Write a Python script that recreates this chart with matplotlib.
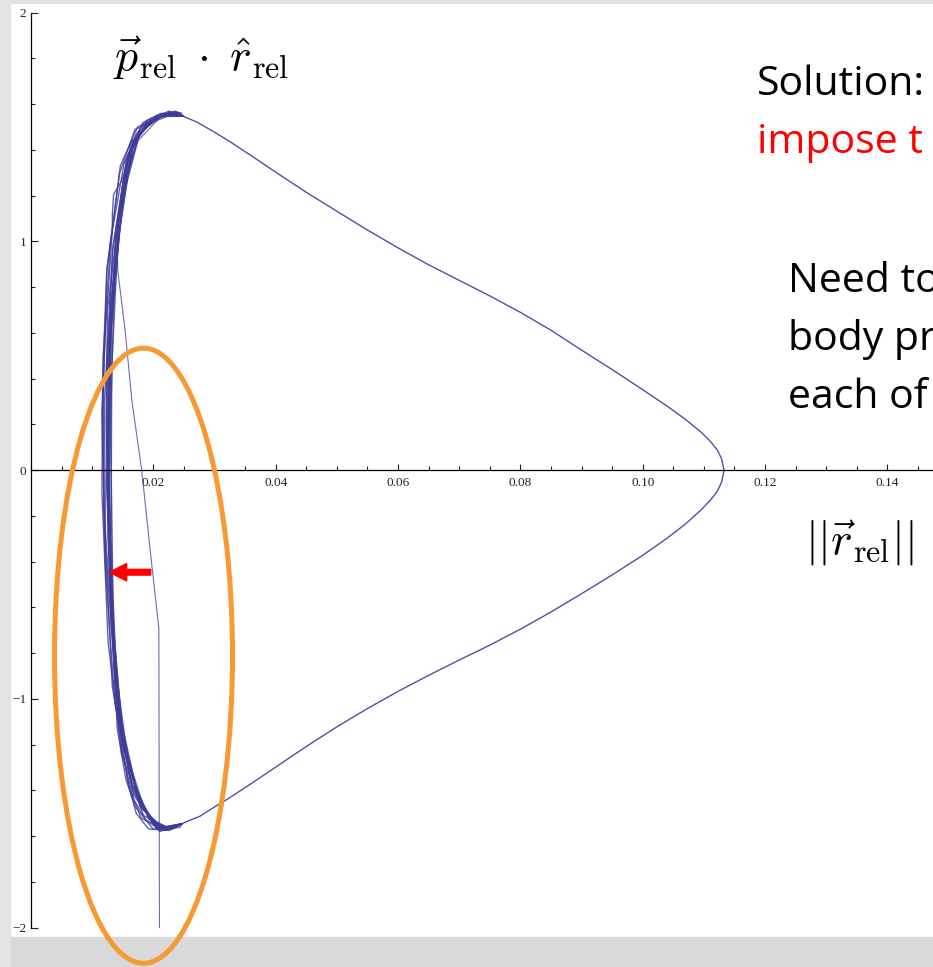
import numpy as np
import matplotlib.pyplot as plt
from matplotlib.patches import Ellipse, FancyArrowPatch, Rectangle
from matplotlib.ticker import FixedLocator, MultipleLocator

plt.rcParams['mathtext.fontset'] = 'cm'

# outer branch with p > 0 (leaving pericentre, out to apocentre)
upper_r = [0.0248, 0.0271, 0.0300, 0.0330, 0.0360, 0.0400, 0.0450, 0.0500, 0.0550, 0.0600,
           0.0650, 0.0700, 0.0750, 0.0800, 0.0850, 0.0900, 0.0950, 0.1000, 0.1040,
           0.1070, 0.1096, 0.1111, 0.1122, 0.1129, 0.1133]
upper_p = [1.548, 1.522, 1.478, 1.428, 1.375, 1.303, 1.215, 1.132, 1.050, 0.972,
           0.898, 0.830, 0.762, 0.690, 0.612, 0.525, 0.440, 0.352, 0.280,
           0.222, 0.165, 0.125, 0.088, 0.050, 0.0]

# outer branch with p < 0 (apocentre back in)
lower_r = [0.1129, 0.1122, 0.1111, 0.1096, 0.1070, 0.1040, 0.1000, 0.0950, 0.0900,
           0.0850, 0.0800, 0.0750, 0.0700, 0.0650, 0.0600, 0.0550, 0.0500, 0.0450,
           0.0400, 0.0360, 0.0320, 0.0300, 0.0276, 0.0260, 0.0246]
lower_p = [-0.052, -0.092, -0.130, -0.172, -0.235, -0.297, -0.372, -0.458, -0.540,
           -0.620, -0.695, -0.765, -0.830, -0.897, -0.967, -1.042, -1.122, -1.208,
           -1.298, -1.370, -1.440, -1.472, -1.513, -1.530, -1.546]

# pericentre passages, one per revolution (coarse time steps)
peri_r = [
    [0.0228, 0.0192, 0.0160, 0.0135, 0.0124, 0.0128, 0.0145, 0.0166, 0.0200, 0.0235],
    [0.0212, 0.0178, 0.0148, 0.0131, 0.0127, 0.0133, 0.0153, 0.0176, 0.0215],
    [0.0235, 0.0203, 0.0165, 0.0138, 0.0126, 0.0123, 0.0134, 0.0158, 0.0190, 0.0228],
    [0.0220, 0.0186, 0.0152, 0.0133, 0.0127, 0.0129, 0.0146, 0.0171, 0.0208],
    [0.0205, 0.0166, 0.0137, 0.0121, 0.0117, 0.0124, 0.0146, 0.0174, 0.0218],
    [0.0230, 0.0198, 0.0160, 0.0137, 0.0127, 0.0127, 0.0139, 0.0163, 0.0196, 0.0232],
    [0.0215, 0.0178, 0.0140, 0.0133, 0.0120, 0.0116, 0.0122, 0.0133, 0.0133, 0.0135,
     0.0148, 0.0172, 0.0207],
    [0.0240, 0.0210, 0.0175, 0.0148, 0.0132, 0.0126, 0.0131, 0.0151, 0.0178, 0.0218],
    [0.0225, 0.0184, 0.0148, 0.0126, 0.0116, 0.0117, 0.0124, 0.0145, 0.0170, 0.0240],
    [0.0210, 0.0175, 0.0150, 0.0136, 0.0130, 0.0125, 0.0129, 0.0144, 0.0168, 0.0205],
    [0.0232, 0.0200, 0.0163, 0.0139, 0.0122, 0.0120, 0.0133, 0.0156, 0.0188, 0.0222],
    [0.0218, 0.0182, 0.0149, 0.0131, 0.0124, 0.0126, 0.0140, 0.0166, 0.0204, 0.0245],
    [0.0200, 0.0170, 0.0155, 0.0141, 0.0129, 0.0123, 0.0125, 0.0150, 0.0160, 0.0183, 0.0212],
    [0.0238, 0.0206, 0.0168, 0.0145, 0.0119, 0.0118, 0.0130, 0.0152, 0.0180, 0.0226],
    [0.0226, 0.0192, 0.0172, 0.0158, 0.0142, 0.0134, 0.0130, 0.0136, 0.0150, 0.0158,
     0.0172, 0.0190, 0.0226],
    [0.0215, 0.0188, 0.0168, 0.0150, 0.0138, 0.0131, 0.0132, 0.0142, 0.0160, 0.0176,
     0.0198, 0.0236],
    [0.0244, 0.0215, 0.0180, 0.0162, 0.0146, 0.0135, 0.0128, 0.0131, 0.0147, 0.0165,
     0.0185, 0.0215],
]
peri_p = [
    [-1.568, -1.525, -1.30, -0.80, -0.05, 0.58, 1.05, 1.42, 1.535, 1.566],
    [-1.572, -1.46, -1.13, -0.55, 0.15, 0.78, 1.23, 1.47, 1.555],
    [-1.560, -1.56, -1.38, -0.98, -0.30, 0.35, 0.98, 1.38, 1.52, 1.565],
    [-1.575, -1.49, -1.20, -0.70, -0.02, 0.66, 1.15, 1.46, 1.55],
    [-1.565, -1.40, -1.02, -0.40, 0.25, 0.87, 1.33, 1.50, 1.56],
    [-1.570, -1.54, -1.32, -0.90, -0.20, 0.45, 1.02, 1.43, 1.535, 1.567],
    [-1.568, -1.47, -1.05, -0.95, -0.25, 0.25, 0.62, 1.045, 1.12, 1.205,
     1.264, 1.46, 1.55],
    [-1.555, -1.57, -1.43, -1.10, -0.60, 0.05, 0.72, 1.20, 1.475, 1.558],
    [-1.563, -1.51, -1.24, -0.75, -0.10, 0.40, 0.88, 1.30, 1.49, 1.566],
    [-1.580, -1.44, -1.16, -0.82, -0.45, 0.10, 0.55, 1.10, 1.44, 1.545],
    [-1.566, -1.55, -1.36, -0.96, -0.35, 0.30, 0.95, 1.36, 1.515, 1.562],
    [-1.572, -1.48, -1.19, -0.68, -0.08, 0.52, 1.07, 1.44, 1.548, 1.563],
    [-1.570, -1.47, -1.35, -1.13, -0.40, 0.20, 0.70, 1.25, 1.38, 1.52, 1.56],
    [-1.558, -1.565, -1.42, -1.12, -0.18, 0.50, 1.00, 1.34, 1.50, 1.566],
    [-1.575, -1.568, -1.50, -1.36, -1.05, -0.55, 0.20, 0.80, 1.18, 1.36,
     1.47, 1.53, 1.570],
    [-1.562, -1.53, -1.44, -1.25, -0.95, -0.30, 0.45, 1.00, 1.32, 1.465,
     1.53, 1.570],
    [-1.560, -1.575, -1.52, -1.40, -1.18, -0.85, -0.10, 0.60, 1.12, 1.40,
     1.50, 1.560],
]

# first steps of the integration from the initial condition
start_r = [0.0210, 0.0209, 0.0195, 0.0181, 0.0165, 0.0154, 0.0142, 0.0140, 0.0150, 0.0175, 0.0210, 0.0232]
start_p = [-2.0, -0.691, -0.354, 0.0, 0.302, 0.608, 0.870, 1.05, 1.25, 1.44, 1.540, 1.561]

x_ticks = [0.02, 0.04, 0.06, 0.08, 0.10, 0.12, 0.14]
x_tick_labels = ['0.02', '0.04', '0.06', '0.08', '0.10', '0.12', '0.14']
y_ticks = [-2, -1, 0, 1, 2]
y_tick_labels = ['\u22122', '\u22121', '0', '1', '2']

W, H = 933, 967
fig = plt.figure(figsize=(W / 100, H / 100), dpi=100)
fig.patch.set_facecolor('white')

# slide frame
fig.patches.append(Rectangle((0, 0), 1, 30 / H, transform=fig.transFigure,
                             color='#d9d9d9', zorder=-2))
fig.patches.append(Rectangle((0, 0), 10 / W, 1, transform=fig.transFigure,
                             color='#e4e4e4', zorder=-2))
fig.patches.append(Rectangle((0, 1 - 3 / H), 1, 3 / H, transform=fig.transFigure,
                             color='#e2e2e2', zorder=-2))

ax = fig.add_axes([31 / W, (H - 927.7) / H, 902 / W, 915 / H])
ax.set_facecolor('none')

line_col = '#3d3d99'
# outer branches (retraced on every revolution)
ax.plot(upper_r + lower_r, upper_p + lower_p, color=line_col, lw=1.0, alpha=0.9)
ax.plot(start_r + upper_r[:1], start_p + upper_p[:1], color=line_col, lw=0.8, alpha=0.75)
for rr, pp in zip(peri_r, peri_p):
    ax.plot(lower_r[-1:] + rr + upper_r[:1], lower_p[-1:] + pp + upper_p[:1],
            color=line_col, lw=1.0, alpha=0.8)

ax.set_xlim(0, 902 / 6117)
ax.set_ylim(-2, 2)
for s in ['top', 'right']:
    ax.spines[s].set_visible(False)
ax.spines['bottom'].set_position(('data', 0))
ax.spines['left'].set_position(('data', 0))
for s in ['bottom', 'left']:
    ax.spines[s].set_linewidth(0.9)

ax.xaxis.set_major_locator(FixedLocator(x_ticks))
ax.set_xticklabels(x_tick_labels)
ax.xaxis.set_minor_locator(MultipleLocator(0.005))
ax.yaxis.set_major_locator(FixedLocator(y_ticks))
ax.set_yticklabels(y_tick_labels)
ax.yaxis.set_minor_locator(MultipleLocator(0.2))
ax.tick_params(which='both', direction='in', width=0.8, labelsize=9.5, colors='#222222')
ax.tick_params(axis='x', which='major', length=4.5, pad=5)
ax.tick_params(axis='x', which='minor', length=2.8)
ax.tick_params(axis='y', which='major', length=5, pad=3.5)
ax.tick_params(axis='y', which='minor', length=3)
for lab in ax.get_xticklabels() + ax.get_yticklabels():
    lab.set_family('Liberation Serif')

# highlight of the pericentre region
ax.add_patch(Ellipse((0.01839, -0.811), width=0.0291, height=2.689, fill=False,
                     ec='#f79a33', lw=3.6, clip_on=False, zorder=5))
ax.add_patch(FancyArrowPatch((0.01957, -0.446), (0.0128, -0.446),
                             arrowstyle='simple,tail_width=0.41,head_width=1.25,head_length=1.25',
                             mutation_scale=10, color='red', shrinkA=0, shrinkB=0,
                             zorder=6))

# axis labels
fig.text(113 / W, 1 - 58 / H, r'$\vec{p}_{\mathrm{rel}}\;\cdot\;\hat{r}_{\mathrm{rel}}$',
         fontsize=33, va='center', ha='left')
fig.text(805 / W, 1 - 543 / H, r'$||\vec{r}_{\mathrm{rel}}||$',
         fontsize=33, va='center', ha='left')

# slide text
txt = dict(family='Open Sans', fontsize=29.5, va='baseline', ha='left')
fig.text(757 / W, 1 - 95 / H, 'Solution:', color='black', **txt)
fig.text(757 / W, 1 - 153 / H, 'impose t', color='red', **txt)
fig.text(788 / W, 1 - 292 / H, 'Need to', color='black', **txt)
fig.text(788 / W, 1 - 350 / H, 'body pr', color='black', **txt)
fig.text(788 / W, 1 - 408 / H, 'each of', color='black', **txt)

fig.savefig('out.png', dpi=100)
